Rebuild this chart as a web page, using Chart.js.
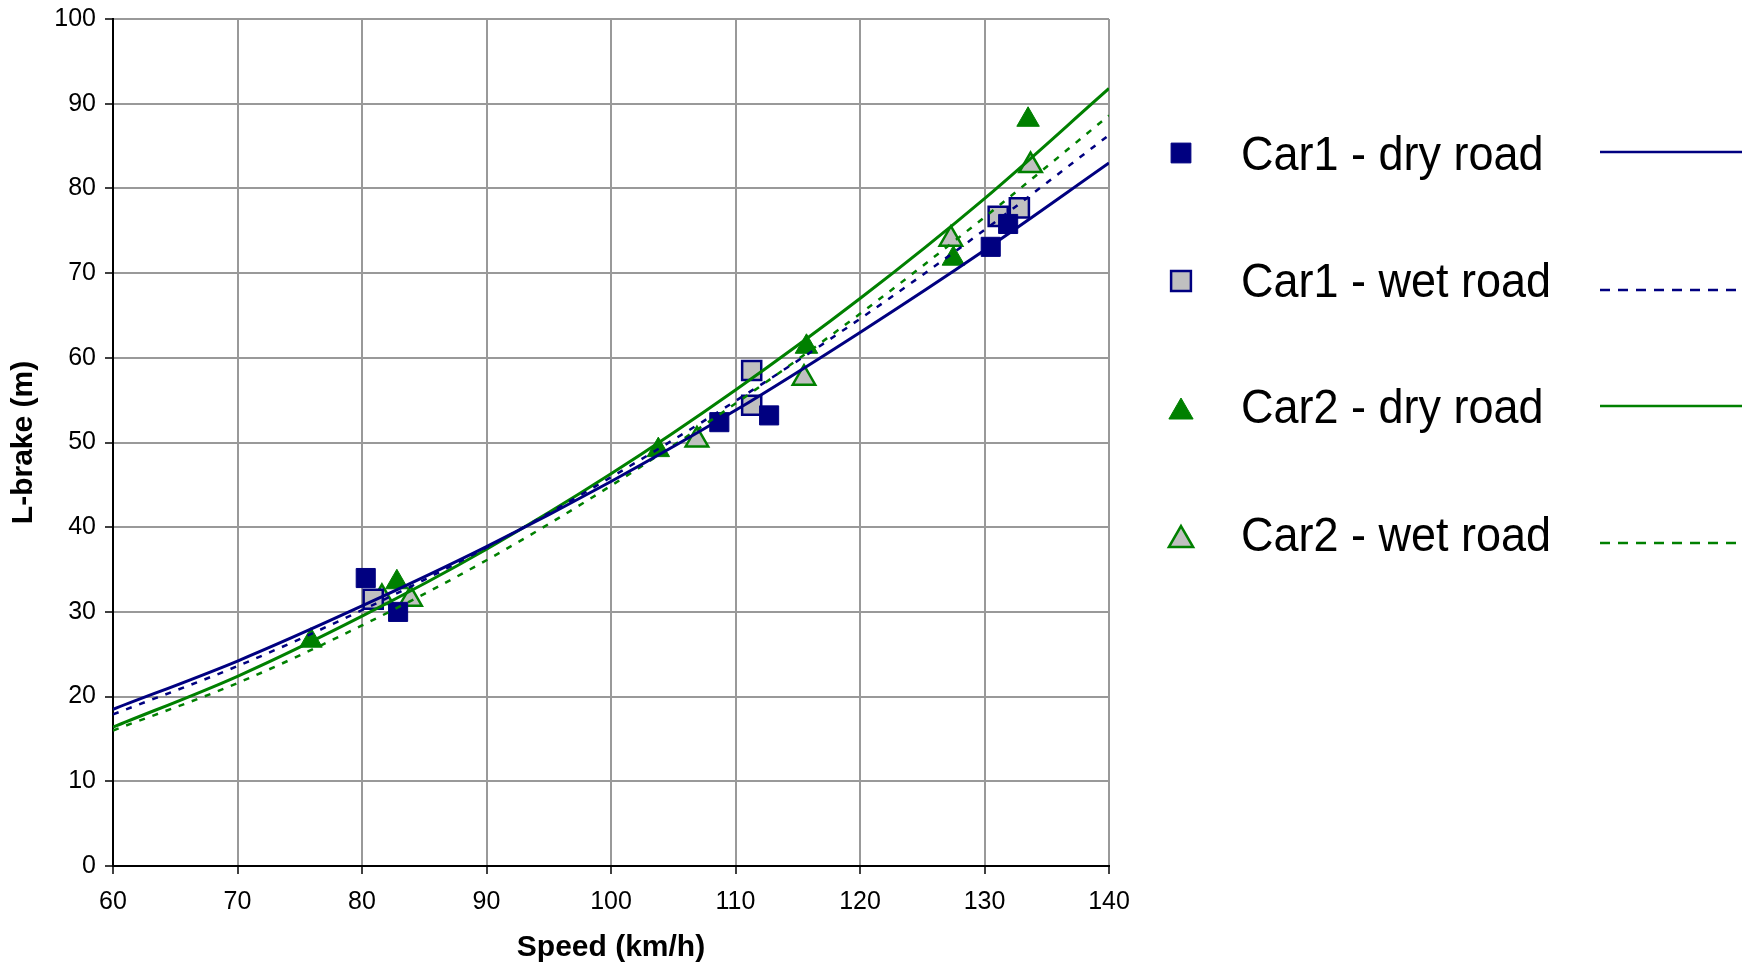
<!DOCTYPE html>
<html>
<head>
<meta charset="utf-8">
<script src="https://cdn.jsdelivr.net/npm/chart.js@4"></script>
<style>
  html, body { margin: 0; padding: 0; background: #fff; }
  #wrap { width: 1749px; height: 966px; position: relative; }
</style>
</head>
<body>
<div id="wrap"><canvas id="chart"></canvas></div>
<script>
// Measured braking distances
const car1DrySpeed = [80.3, 82.9, 108.7, 112.7, 130.5, 131.9];
const car1DryBrake = [34.0, 30.0, 52.4, 53.2, 73.1, 75.8];
const car1WetSpeed = [80.9, 111.3, 111.3, 131.1, 132.8];
const car1WetBrake = [31.5, 58.5, 54.4, 76.7, 77.7];
const car2DrySpeed = [75.9, 82.8, 103.8, 115.7, 127.5, 133.5];
const car2DryBrake = [26.6, 33.5, 49.1, 61.3, 71.7, 88.1];
const car2WetSpeed = [81.6, 83.9, 106.9, 115.5, 127.3, 133.7];
const car2WetBrake = [31.7, 31.5, 50.3, 57.6, 74.0, 82.7];

// Trend curves
const trendSpeed = [60, 70, 80, 90, 100, 110, 120, 130, 140];
const car1DryTrend = [18.5, 24.2, 30.7, 37.7, 45.4, 53.8, 63.0, 72.7, 83.0];
const car1WetTrend = [17.9, 23.6, 30.2, 37.6, 45.9, 54.9, 64.6, 75.1, 86.3];
const car2DryTrend = [16.4, 22.4, 29.5, 37.4, 46.3, 56.2, 67.0, 78.8, 91.8];
const car2WetTrend = [16.0, 21.6, 28.4, 36.1, 44.9, 54.6, 65.2, 76.6, 88.6];

const seriesLabels = ["Car1 - dry road", "Car1 - wet road", "Car2 - dry road", "Car2 - wet road"];

const NAVY = "#000080";
const GREEN = "#008000";
const GREY = "#c0c0c0";

const toPoints = (xs, ys) => xs.map((x, i) => ({x: x, y: ys[i]}));

const markerSets = [
    {data: toPoints(car1DrySpeed, car1DryBrake), pointStyle: "rect", pointRadius: 13.5, backgroundColor: NAVY, borderColor: NAVY, pointBorderWidth: 1},
    {data: toPoints(car1WetSpeed, car1WetBrake), pointStyle: "rect", pointRadius: 13.5, backgroundColor: GREY, borderColor: NAVY, pointBorderWidth: 2.5},
    {data: toPoints(car2DrySpeed, car2DryBrake), pointStyle: "triangle", pointRadius: 13, backgroundColor: GREEN, borderColor: GREEN, pointBorderWidth: 1},
    {data: toPoints(car2WetSpeed, car2WetBrake), pointStyle: "triangle", pointRadius: 13, backgroundColor: GREY, borderColor: GREEN, pointBorderWidth: 2.5}
];

const trendSets = [
    {data: toPoints(trendSpeed, car1DryTrend), borderColor: NAVY, borderDash: []},
    {data: toPoints(trendSpeed, car1WetTrend), borderColor: NAVY, borderDash: [6, 8]},
    {data: toPoints(trendSpeed, car2DryTrend), borderColor: GREEN, borderDash: []},
    {data: toPoints(trendSpeed, car2WetTrend), borderColor: GREEN, borderDash: [6, 8]}
];

const datasets = [];
trendSets.forEach((t, i) => {
    datasets.push({
        label: seriesLabels[i] + " trend",
        data: t.data,
        showLine: true,
        borderColor: t.borderColor,
        borderDash: t.borderDash,
        borderWidth: t.borderDash.length ? 2.5 : 3,
        pointRadius: 0,
        cubicInterpolationMode: "monotone",
        order: 0
    });
});
markerSets.forEach((m, i) => {
    datasets.push({
        label: seriesLabels[i],
        data: m.data,
        showLine: false,
        pointStyle: m.pointStyle,
        pointRadius: m.pointRadius,
        pointBackgroundColor: m.backgroundColor,
        pointBorderColor: m.borderColor,
        pointBorderWidth: m.pointBorderWidth,
        backgroundColor: m.backgroundColor,
        borderColor: m.borderColor,
        order: 1
    });
});

// legend with marker, label and line sample in three columns
const sideLegend = {
    id: "sideLegend",
    afterDraw(chart) {
        const ctx = chart.ctx;
        const rows = [
            {markerY: 153, textY: 170, lineY: 152},
            {markerY: 281, textY: 297, lineY: 290},
            {markerY: 412, textY: 423, lineY: 406},
            {markerY: 540, textY: 551, lineY: 543}
        ];
        rows.forEach((row, i) => {
            const m = markerSets[i];
            const t = trendSets[i];
            ctx.save();
            ctx.fillStyle = m.backgroundColor;
            ctx.strokeStyle = m.borderColor;
            ctx.lineWidth = m.pointBorderWidth;
            Chart.helpers.drawPoint(ctx, {pointStyle: m.pointStyle, radius: 14, rotation: 0, borderWidth: m.pointBorderWidth}, 1181, row.markerY);
            ctx.restore();

            ctx.save();
            ctx.fillStyle = "#000";
            ctx.font = "45px 'Liberation Sans', Arial, sans-serif";
            ctx.textBaseline = "alphabetic";
            ctx.textAlign = "left";
            ctx.translate(1241, row.textY);
            ctx.scale(1, 1.08);
            ctx.fillText(seriesLabels[i], 0, 0);
            ctx.restore();

            ctx.save();
            ctx.strokeStyle = t.borderColor;
            ctx.lineWidth = 2.5;
            ctx.setLineDash(t.borderDash.length ? [10, 8] : []);
            ctx.beginPath();
            ctx.moveTo(1600, row.lineY);
            ctx.lineTo(1742, row.lineY);
            ctx.stroke();
            ctx.restore();
        });
    }
};

const tickFont = {family: "'Liberation Sans', Arial, sans-serif", size: 25};
const titleFont = {family: "'Liberation Sans', Arial, sans-serif", size: 30, weight: "bold"};

new Chart(document.querySelector("#chart"), {
    type: "scatter",
    data: {datasets: datasets},
    options: {
        responsive: true,
        maintainAspectRatio: false,
        animation: false,
        layout: {padding: {left: 0, top: 19, right: 640, bottom: 0}},
        plugins: {
            legend: {display: false},
            tooltip: {enabled: false}
        },
        scales: {
            x: {
                type: "linear",
                min: 60,
                max: 140,
                ticks: {stepSize: 10, color: "#000", font: tickFont, padding: 13},
                grid: {color: "#999999", lineWidth: 2, tickLength: 8, tickColor: "#000", tickWidth: 1.5},
                border: {color: "#000", width: 2},
                title: {display: true, text: "Speed (km/h)", color: "#000", font: titleFont, padding: {top: 0, bottom: 0}},
                afterFit: (scale) => {
                    scale.height = 100;
                    scale.paddingLeft = 0;
                    scale.paddingRight = 0;
                }
            },
            y: {
                type: "linear",
                min: 0,
                max: 100,
                ticks: {stepSize: 10, color: "#000", font: tickFont, padding: 9},
                grid: {color: "#999999", lineWidth: 2, tickLength: 8, tickColor: "#000", tickWidth: 1.5},
                border: {color: "#000", width: 2},
                title: {display: true, text: "L-brake (m)", color: "#000", font: titleFont, padding: {top: 6, bottom: 0}},
                afterFit: (scale) => {
                    scale.width = 113;
                    scale.paddingTop = 0;
                    scale.paddingBottom = 0;
                }
            }
        }
    },
    plugins: [sideLegend]
});
</script>
</body>
</html>
